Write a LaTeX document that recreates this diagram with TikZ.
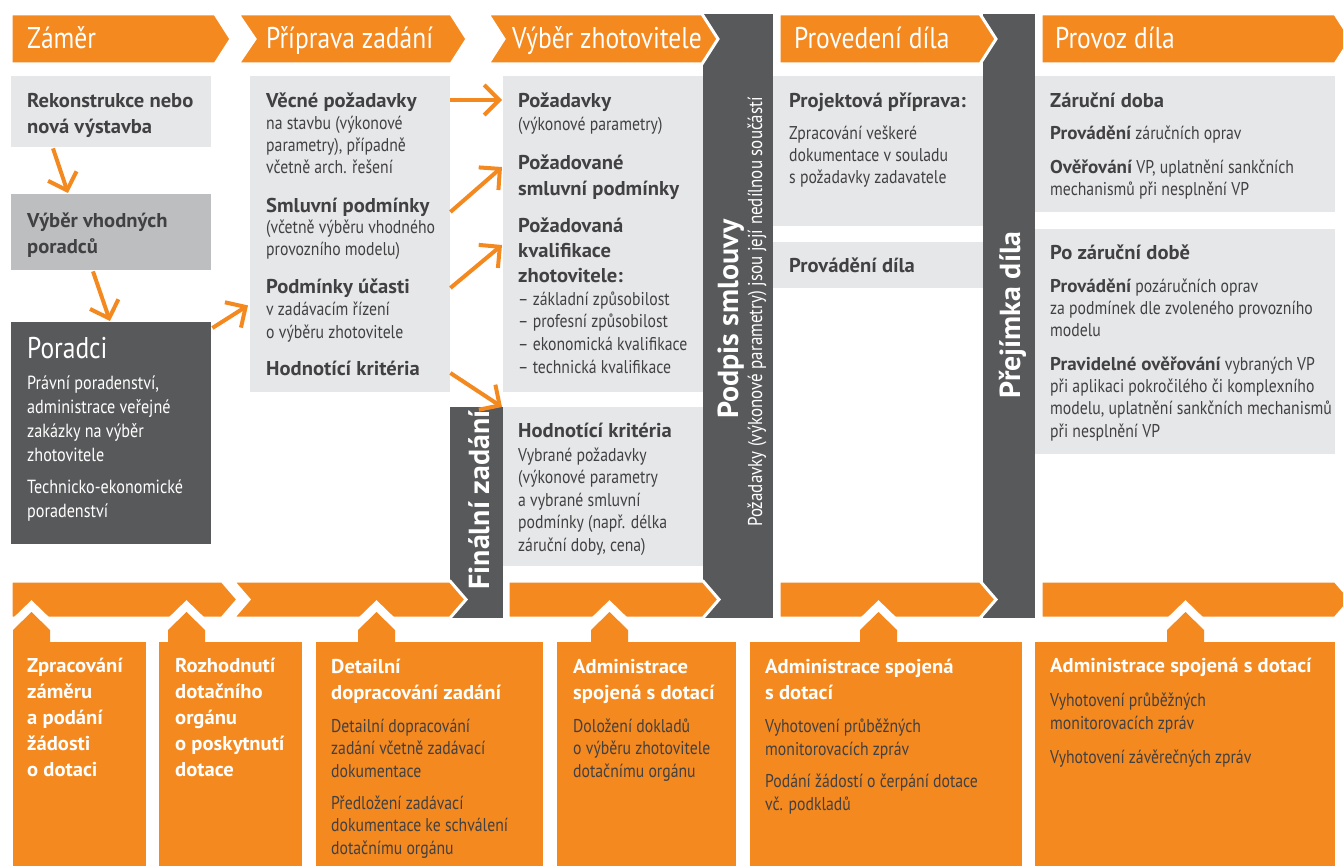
\documentclass[tikz,border=0pt]{standalone}
\usepackage{fontspec}
\setmainfont{PT Sans}[FakeStretch=0.85,BoldFeatures={FakeStretch=1.03}]
\usetikzlibrary{arrows.meta,calc}
\definecolor{orng}{HTML}{F4891F}
\definecolor{dgray}{HTML}{58595B}
\definecolor{lgray}{HTML}{E6E7E8}
\definecolor{mgray}{HTML}{BCBEC0}
\definecolor{txt}{HTML}{414042}

\begin{document}
\begin{tikzpicture}[x=1pt,y=-1pt]%
  \tikzstyle{phase}=[fill=orng,draw=white,line width=3pt]
  \tikzstyle{band}=[fill=dgray,inner sep=0,anchor=north west]
  \tikzstyle{lbox}=[fill=lgray,inner sep=0,anchor=north west]
  \tikzstyle{obox}=[fill=orng,inner sep=0,anchor=north west]
  \tikzstyle{tab}=[fill=orng,preaction={draw=white,line width=17pt}]
  \tikzstyle{arr}=[draw=orng,line width=4pt,-{Straight Barb[length=15pt,width=30pt]}]
  \tikzstyle{hdr}=[anchor=base west,inner sep=0,text=white,font=\fontsize{30}{32}\selectfont]
  \tikzstyle{ttl}=[anchor=base west,inner sep=0,align=left,text=txt,font=\bfseries\fontsize{20}{26}\selectfont]
  \tikzstyle{bdy}=[anchor=base west,inner sep=0,align=left,text=txt,font=\fontsize{18.5}{22.3}\selectfont]
  \tikzstyle{wttl}=[ttl,text=white,font=\bfseries\fontsize{20}{25.8}\selectfont]
  \tikzstyle{vert}=[anchor=base,inner sep=0,rotate=90,text=white,font=\bfseries\fontsize{29}{32}\selectfont]

  \useasboundingbox (0,0) rectangle (1343,866);
  \node (podpis) [band,minimum width=70,minimum height=604] at (703,14) {};
  \node (prejimka) [band,minimum width=52,minimum height=604] at (983,14) {};
  \node (final) [band,minimum width=53,minimum height=211] at (450,407) {};
  \foreach \xa/\nt/\xb/\ya/\hh in {11/0/215/14/50,238/17/451/14/50,488/16/702/14/50,779/0/980/14/50,1041/0/1335/14/50,
      11/0/222/581/37,233/16/450/581/37,508/0/703/581/37,779/0/980/581/37,1041/0/1335/581/37}
    \path[phase] (\xa,\ya) -- (\xb,\ya) -- (\xb+16,\ya+\hh/2) -- (\xb,\ya+\hh) -- (\xa,\ya+\hh) -- (\xa+\nt,\ya+\hh/2) -- cycle;
  \foreach \xa in {13,168,358,591,860,1167}
    \path[tab] (\xa,655) -- (\xa,630) -- (\xa+18.5,612) -- (\xa+37,630) -- (\xa+37,655) -- cycle;

  \node (h1) [hdr] at (27,49) {Záměr};
  \node (h2) [hdr] at (266,49) {Příprava zadání};
  \node (h3) [hdr] at (512,49) {Výběr zhotovitele};
  \node (h4) [hdr] at (794,49) {Provedení díla};
  \node (h5) [hdr] at (1055,49) {Provoz díla};

  \node (rekon) [lbox,minimum width=200,minimum height=71] at (11,76) {};
  \node (vyber) [lbox,fill=mgray,minimum width=200,minimum height=76] at (11,194) {};
  \node (poradci) [lbox,fill=dgray,minimum width=200,minimum height=222] at (11,322) {};
  \node (vecne) [lbox,minimum width=200,minimum height=316] at (250,76) {};
  \node (pozad) [lbox,minimum width=200,minimum height=316] at (503,76) {};
  \node (hodn) [lbox,minimum width=200,minimum height=159] at (503,407) {};
  \node (projekt) [lbox,minimum width=210,minimum height=150] at (773,76) {};
  \node (provad) [lbox,minimum width=210,minimum height=46] at (773,242) {};
  \node (zaruka) [lbox,minimum width=300,minimum height=136] at (1035,76) {};
  \node (pozaruka) [lbox,minimum width=300,minimum height=225] at (1035,229) {};

  \node (b1) [obox,minimum width=133,minimum height=230] at (13,642) {};
  \node (b2) [obox,minimum width=143,minimum height=230] at (159,642) {};
  \node (b3) [obox,minimum width=227,minimum height=230] at (316,642) {};
  \node (b4) [obox,minimum width=179,minimum height=230] at (557,642) {};
  \node (b5) [obox,minimum width=272,minimum height=230] at (750,642) {};
  \node (b6) [obox,minimum width=300,minimum height=230] at (1035,642) {};

  \draw[arr] ($(rekon.south west)+(42,1)$) -- ($(vyber.north west)+(57,-1)$);
  \draw[arr] ($(vyber.south west)+(82,1)$) -- ($(poradci.north west)+(99,-1)$);
  \draw[arr] ($(poradci.north east)+(1,6)$) -- ($(vecne.south west)+(-2,-87)$);
  \draw[arr] ($(vecne.north east)+(0,24)$) -- ($(pozad.north west)+(-1,24)$);
  \draw[arr] ($(vecne.north east)+(0,136)$) -- ($(pozad.north west)+(-1,91)$);
  \draw[arr] ($(vecne.north east)+(0,212)$) -- ($(pozad.north west)+(-1,169)$);
  \draw[arr] ($(vecne.north east)+(0,297)$) -- ($(hodn.north west)+(-1,0)$);

  \node (rekt) [ttl] at (27,134) {Rekonstrukce nebo\\nová výstavba};
  \node (vybt) [ttl] at (27,254) {Výběr vhodných\\poradců};
  \node (port) [hdr] at (27,358) {Poradci};
  \node (porb1) [bdy,text=white,font=\fontsize{19}{23.7}\selectfont] at (27,461) {Právní poradenství,\\administrace veřejné\\zakázky na výběr\\zhotovitele};
  \node (porb2) [bdy,text=white,font=\fontsize{19}{23.7}\selectfont] at (27,517) {Technicko-ekonomické\\poradenství};

  \node (vect) [ttl] at (266,108) {Věcné požadavky};
  \node (vecb) [bdy] at (266,174) {na stavbu (výkonové\\parametry), případně\\včetně arch. řešení};
  \node (smlt) [ttl] at (266,213) {Smluvní podmínky};
  \node (smlb) [bdy] at (266,256) {(včetně výběru vhodného\\provozního modelu)};
  \node (uct) [ttl] at (266,294) {Podmínky účasti};
  \node (ucb) [bdy] at (266,338) {v zadávacím řízení\\o výběru zhotovitele};
  \node (hkt) [ttl] at (266,375) {Hodnotící kritéria};

  \node (pozt) [ttl] at (518,108) {Požadavky};
  \node (pozb) [bdy] at (518,131) {(výkonové parametry)};
  \node (psmt) [ttl] at (518,196) {Požadované\\smluvní podmínky};
  \node (pkvt) [ttl,font=\bfseries\fontsize{20}{25}\selectfont] at (518,283) {Požadovaná\\kvalifikace\\zhotovitele:};
  \node (pkvb) [bdy,font=\fontsize{18.5}{22.6}\selectfont] at (518,373) {– základní způsobilost\\– profesní způsobilost\\– ekonomická kvalifikace\\– technická kvalifikace};
  \node (hodt) [ttl] at (518,437) {Hodnotící kritéria};
  \node (hodb) [bdy,font=\fontsize{18.5}{22.5}\selectfont] at (518,551) {Vybrané požadavky\\(výkonové parametry\\a vybrané smluvní\\podmínky (např. délka\\záruční doby, cena)};

  \node (prjt) [ttl] at (789,108) {Projektová příprava:};
  \node (prjb) [bdy] at (789,184) {Zpracování veškeré\\dokumentace v souladu\\s požadavky zadavatele};
  \node (prvt) [ttl] at (789,273) {Provádění díla};

  \node (zart) [ttl] at (1050,108) {Záruční doba};
  \node (zarb1) [bdy] at (1050,140) {{\bfseries Provádění} záručních oprav};
  \node (zarb2) [bdy] at (1050,196) {{\bfseries Ověřování} VP, uplatnění sankčních\\mechanismů při nesplnění VP};
  \node (pzt) [ttl] at (1050,260) {Po záruční době};
  \node (pzb1) [bdy] at (1050,337) {{\bfseries Provádění} pozáručních oprav\\za podmínek dle zvoleného provozního\\modelu};
  \node (pzb2) [bdy] at (1050,437) {{\bfseries Pravidelné ověřování} vybraných VP\\při aplikaci pokročilého či komplexního\\modelu, uplatnění sankčních mechanismů\\při nesplnění VP};

  \node (fint) [vert] at (489,500) {Finální zadání};
  \node (podt) [vert] at (738,319) {Podpis smlouvy};
  \node (podb) [vert,font=\fontsize{20}{22}\selectfont] at (762,312) {Požadavky (výkonové parametry) jsou její nedílnou součástí};
  \node (prjm) [vert] at (1020,315) {Přejímka díla};

  \node (b1t) [wttl] at (27,776) {Zpracování\\záměru\\a podání\\žádosti\\o dotaci};
  \node (b2t) [wttl] at (175,776) {Rozhodnutí\\dotačního\\orgánu\\o poskytnutí\\dotace};
  \node (b3t) [wttl] at (331,699) {Detailní\\dopracování zadání};
  \node (b3b1) [bdy] at (331,777) {Detailní dopracování\\zadání včetně zadávací\\dokumentace};
  \node (b3b2) [bdy] at (331,854) {Předložení zadávací\\dokumentace ke schválení\\dotačnímu orgánu};
  \node (b4t) [wttl] at (573,699) {Administrace\\spojená s dotací};
  \node (b4b) [bdy] at (573,777) {Doložení dokladů\\o výběru zhotovitele\\dotačnímu orgánu};
  \node (b5t) [wttl] at (765,699) {Administrace spojená\\s dotací};
  \node (b5b1) [bdy] at (765,755) {Vyhotovení průběžných\\monitorovacích zpráv};
  \node (b5b2) [bdy] at (765,810) {Podání žádostí o čerpání dotace\\vč. podkladů};
  \node (b6t) [wttl] at (1050,672) {Administrace spojená s dotací};
  \node (b6b1) [bdy] at (1050,729) {Vyhotovení průběžných\\monitorovacích zpráv};
  \node (b6b2) [bdy] at (1050,763) {Vyhotovení závěrečných zpráv};
\end{tikzpicture}
\end{document}
